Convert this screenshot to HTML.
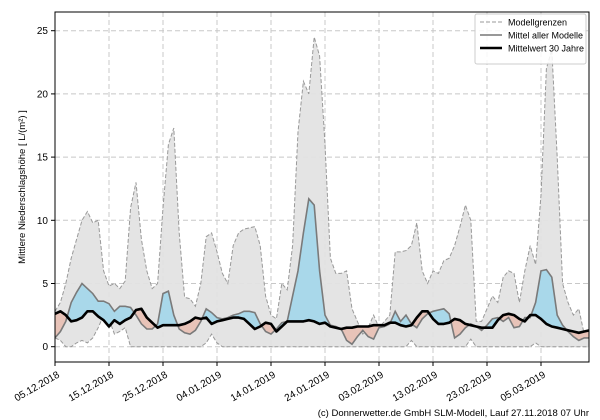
<!DOCTYPE html>
<html><head><meta charset="utf-8"><style>
html,body{margin:0;padding:0;background:#fff;width:600px;height:420px;overflow:hidden}
svg text{font-family:"Liberation Sans","DejaVu Sans",sans-serif}
</style></head><body>
<svg id="s" width="600" height="420" xmlns="http://www.w3.org/2000/svg"></svg>
<script>
const X0=55,X1=589,Y0=12,Y1=362;
const xd=d=>X0+5.4*d, yv=v=>346.7-12.64*v;
const up=[2.8,3.5,5,7,8.5,10,10.7,9.8,10,6,4.8,5,4.6,5.2,11,13,8.5,6,4.6,5,11,16,17.3,9,3.9,3.8,3.2,5,8.7,9,7.5,5.8,5,8,9,9.3,9.4,9.5,8,4,2.5,2.2,5,4.5,8,17,21,20,24.5,23,16,7,5.8,5.8,6,3,2,1,1.5,2.5,1.5,2,2.5,7.5,7.5,7.6,8,9.8,6,5,6,5.8,6.8,7,8,9.5,11.2,10,2,2,3,4,3.5,5.5,6,5.8,3.5,6,8,6.5,12,22,23.5,15,5,3.5,2.5,3,1,0.8];
const lo=new Array(up.length).fill(0);
[[0,.7],[1,.5],[4,.3],[5,.5],[6,.3],[7,.7],[8,1.5],[9,2.5],[10,2.2],[11,1],[12,1.2],[13,1.5],[28,.3],[29,1],[30,.3],[66,.5],[77,.6],[89,.3]].forEach(([i,v])=>lo[i]=v);
const mm=[0.7,1.2,2,3.5,4.3,5,4.6,4.2,3.6,3.6,3.4,2.8,3.2,3.2,3.1,2.5,1.8,1.4,1.4,1.8,4.2,4.4,2.5,1.4,1.1,1.0,1.3,2,3,2.7,2.3,2.2,2.3,2.5,2.6,2.8,2.8,2.7,1.8,1.2,1.0,1.4,1.9,2.0,4,6,9,11.7,11.2,6,2.5,1.7,1.6,1.4,0.5,0.2,0.8,1.3,0.8,0.6,1.5,1.6,1.8,2.8,2.0,2.5,1.8,1.5,2.2,2.6,2.8,2.9,3.0,2.6,0.7,1.0,1.5,1.8,1.6,1.3,1.7,2.2,2.3,2.0,2.3,1.5,1.6,2.3,2.3,3.5,6.0,6.1,5.5,2.5,1.7,1.2,0.8,0.5,0.7,0.7];
const m30=[2.6,2.8,2.5,2.0,2.1,2.3,2.8,2.8,2.4,2.1,1.6,2.1,1.8,2.1,2.3,2.9,3.0,2.3,1.9,1.5,1.7,1.7,1.7,1.7,1.8,2.0,2.3,2.2,2.3,1.8,2.0,2.1,2.2,2.3,2.3,2.2,1.8,1.4,1.6,1.9,1.8,1.2,1.6,2.0,2.0,2.0,2.0,2.1,2.0,1.8,1.9,1.6,1.5,1.4,1.5,1.5,1.6,1.6,1.6,1.7,1.7,1.7,1.9,1.9,1.7,1.6,1.7,2.3,2.8,2.8,2.2,1.8,1.8,1.9,2.2,2.1,1.8,1.7,1.6,1.5,1.5,1.5,2.1,2.5,2.6,2.5,2.2,2.0,2.5,2.5,2.2,1.8,1.6,1.5,1.4,1.3,1.2,1.1,1.2,1.3];
const N=up.length;
const pts=a=>a.map((v,i)=>xd(i).toFixed(1)+','+yv(v).toFixed(1));
let h='';
h+=`<defs><clipPath id="pa"><rect x="${X0}" y="${Y0}" width="${X1-X0}" height="${Y1-Y0}"/></clipPath>
<clipPath id="ab"><polygon points="${X0},${Y0} ${pts(m30).join(' ')} ${X1},${Y0}"/></clipPath>
<clipPath id="be"><polygon points="${X0},${Y1} ${pts(m30).join(' ')} ${X1},${Y1}"/></clipPath></defs>`;
// grid
for(let v=0;v<=25;v+=5){h+=`<line x1="${X0}" x2="${X1}" y1="${yv(v)}" y2="${yv(v)}" stroke="#c8c8c8" stroke-dasharray="5,3"/>`;}
for(let k=0;k<10;k++){const x=X0+54*k;h+=`<line x1="${x}" x2="${x}" y1="${Y0}" y2="${Y1}" stroke="#c8c8c8" stroke-dasharray="5,3"/>`;}
h+=`<g clip-path="url(#pa)">`;
const band=pts(up).concat(pts(lo).reverse()).join(' ');
h+=`<polygon points="${band}" fill="#e3e3e3" fill-opacity="0.95"/>`;
h+=`<polyline points="${pts(up).join(' ')}" fill="none" stroke="#999" stroke-dasharray="4,2" stroke-width="1"/>`;
h+=`<polyline points="${pts(lo).join(' ')}" fill="none" stroke="#999" stroke-dasharray="4,2" stroke-width="1"/>`;
const fb=pts(mm).concat(pts(m30).reverse()).join(' ');
h+=`<polygon points="${fb}" fill="#a9d8ea" clip-path="url(#ab)"/>`;
h+=`<polygon points="${fb}" fill="#e8c3b8" clip-path="url(#be)"/>`;
h+=`<polyline points="${pts(mm).join(' ')}" fill="none" stroke="#7a7a7a" stroke-width="1.6"/>`;
h+=`<polyline points="${pts(m30).join(' ')}" fill="none" stroke="#000" stroke-width="2.6" stroke-linejoin="round"/>`;
h+=`</g>`;
h+=`<rect x="${X0}" y="${Y0}" width="${X1-X0}" height="${Y1-Y0}" fill="none" stroke="#000" stroke-width="1"/>`;
for(let v=0;v<=25;v+=5){const y=yv(v);h+=`<line x1="${X0-4}" x2="${X0}" y1="${y}" y2="${y}" stroke="#000"/><text x="${X0-7}" y="${y+3.5}" font-size="10" text-anchor="end">${v}</text>`;}
const labs=["05.12.2018","15.12.2018","25.12.2018","04.01.2019","14.01.2019","24.01.2019","03.02.2019","13.02.2019","23.02.2019","05.03.2019"];
labs.forEach((l,k)=>{const x=X0+54*k;h+=`<line x1="${x}" x2="${x}" y1="${Y1}" y2="${Y1+4}" stroke="#000"/><text transform="translate(${x+2},${Y1+9}) rotate(-30)" font-size="10" text-anchor="end" dominant-baseline="hanging">${l}</text>`;});
h+=`<text transform="translate(25,187) rotate(-90)" font-size="9.5" text-anchor="middle">Mittlere Niederschlagshöhe [ L/(m²) ]</text>`;
// legend
h+=`<rect x="475" y="14" width="111" height="50" fill="#fff" fill-opacity="0.85" stroke="#ccc" rx="2"/>`;
h+=`<line x1="480" x2="502" y1="22" y2="22" stroke="#999" stroke-dasharray="4,2"/><text x="508" y="25.5" font-size="9">Modellgrenzen</text>`;
h+=`<line x1="480" x2="502" y1="35" y2="35" stroke="#777" stroke-width="1.5"/><text x="508" y="38.5" font-size="9">Mittel aller Modelle</text>`;
h+=`<line x1="480" x2="502" y1="48" y2="48" stroke="#000" stroke-width="2.6"/><text x="508" y="51.5" font-size="9">Mittelwert 30 Jahre</text>`;
h+=`<text x="589" y="416" font-size="9.5" text-anchor="end">(c) Donnerwetter.de GmbH SLM-Modell, Lauf 27.11.2018 07 Uhr</text>`;
document.getElementById('s').innerHTML=h;
</script>
</body></html>
